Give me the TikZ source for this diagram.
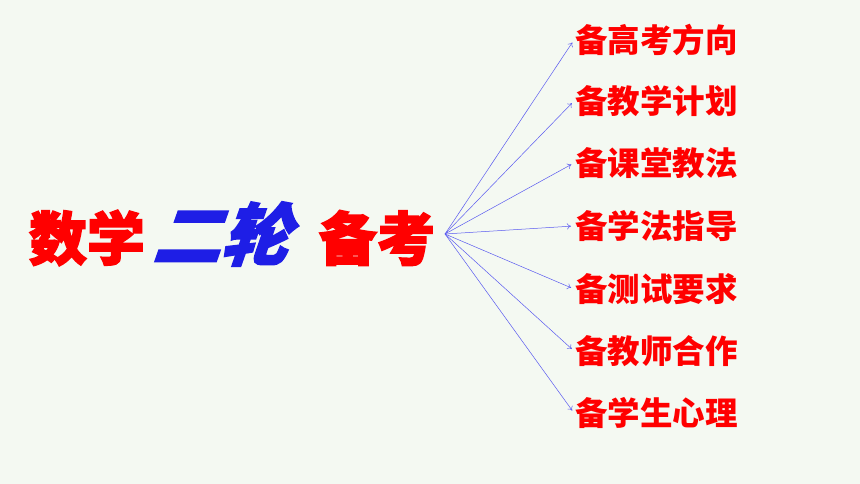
\documentclass[tikz,border=0pt]{standalone}
\usepackage{fontspec}
\newfontfamily\cjk{Noto Sans CJK SC}
\newfontfamily\cjktitle{Noto Sans CJK SC}[FakeBold=2.5]
\newfontfamily\cjkslant{Noto Sans CJK SC}[FakeBold=2.5,FakeSlant=0.35]
\usetikzlibrary{arrows.meta}
\definecolor{bg}{HTML}{F4F9F2}
\definecolor{tred}{HTML}{FF0000}
\definecolor{tblue}{HTML}{1E1EE6}
\definecolor{arr}{HTML}{5A5AF0}
\tikzset{
  lbl/.style={anchor=west,inner sep=1pt,text=tred,font=\cjk\bfseries\fontsize{32.5}{32.5}\selectfont},
  ttl/.style={inner sep=0pt,text=tred,font=\cjktitle\bfseries\fontsize{58}{58}\selectfont},
  conn/.style={draw=arr,line width=0.5pt,-{To[length=4pt,width=6pt]},shorten >=3pt}
}
\begin{document}
\begin{tikzpicture}[x=1pt,y=1pt]
\fill[bg] (0,0) rectangle (860,484);
\useasboundingbox (0,0) rectangle (860,484);
\node[ttl] (t1) at (87,246) {数学};
\node[ttl,text=tblue,font=\cjkslant\bfseries\fontsize{68}{68}\selectfont] (t2) at (220,250) {二轮};
\node[ttl] (t3) at (377,246) {备考};
\coordinate (o) at (445,250);
\node[lbl] (l1) at (574,444) {备高考方向};
\node[lbl] (l2) at (574,383) {备教学计划};
\node[lbl] (l3) at (574,321) {备课堂教法};
\node[lbl] (l4) at (574,258) {备学法指导};
\node[lbl] (l5) at (574,195) {备测试要求};
\node[lbl] (l6) at (574,133) {备教师合作};
\node[lbl] (l7) at (574,71) {备学生心理};
\foreach \i in {1,...,7} \draw[conn] (o) -- (l\i.west);
\end{tikzpicture}
\end{document}
